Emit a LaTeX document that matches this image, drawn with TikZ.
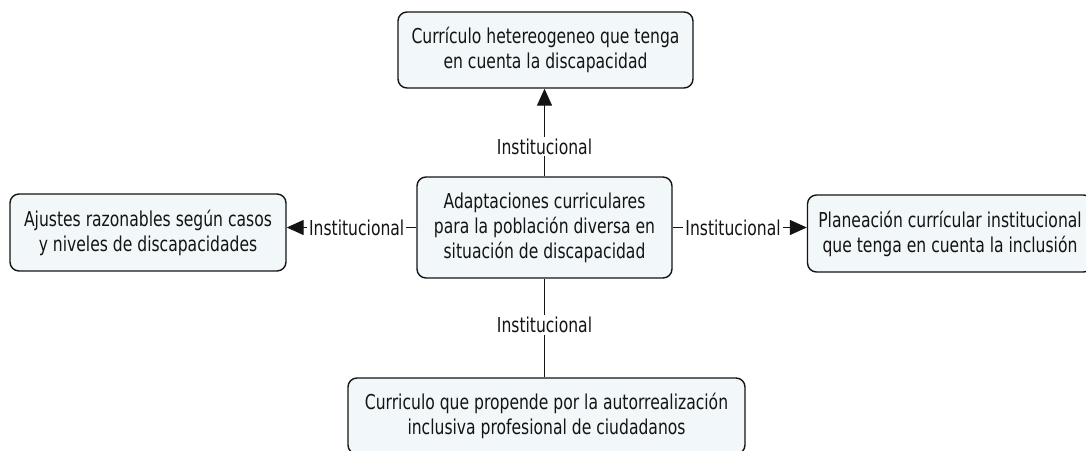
\documentclass[tikz,border=0pt]{standalone}
\usepackage{fontspec}
\setmainfont{DejaVu Sans}[FakeStretch=0.76]
\usetikzlibrary{arrows.meta}
\tikzset{>={Triangle[length=17pt,width=15pt]}}
\definecolor{boxfill}{RGB}{242,248,249}
\colorlet{ink}{black!92}
\newcommand{\inst}{Institucional}

\begin{document}
\begin{tikzpicture}[x=1pt,y=-1pt,
  concept/.style={draw=ink, line width=1.4pt, rounded corners=9pt, fill=boxfill,
    align=center, inner sep=0pt, text=ink, font=\fontsize{20.5}{25}\selectfont},
  rel/.style={fill=white, inner sep=2pt, text=ink, font=\fontsize{20.5}{25}\selectfont}]
  \useasboundingbox (0,0) rectangle (1086,450);
  % concepts
  \node[concept, minimum width=295pt, minimum height=76pt] (curhet) at (545.5,50)
    {Currículo hetereogeneo que tenga\\en cuenta la discapacidad};
  \node[concept, minimum width=255pt, minimum height=101pt] (adapt) at (544.5,227.5)
    {Adaptaciones curriculares\\para la población diversa en\\situación de discapacidad};
  \node[concept, minimum width=276pt, minimum height=77pt] (ajustes) at (148,232.5)
    {Ajustes razonables según casos\\y niveles de discapacidades};
  \node[concept, minimum width=285pt, minimum height=77pt] (planea) at (950,233.5)
    {Planeación currícular institucional\\que tenga en cuenta la inclusión};
  \node[concept, minimum width=397pt, minimum height=76pt] (curaut) at (546.5,416)
    {Curriculo que propende por la autorrealización\\inclusiva profesional de ciudadanos};
  % links
  \draw[->,line width=1.4pt,ink] (adapt.north) -- node[rel,pos=0.34] {\inst} (adapt.north |- curhet.south);
  \draw[->,line width=1.4pt,ink] (adapt.west) -- node[rel,pos=0.46] {\inst} (adapt.west -| ajustes.east);
  \draw[->,line width=1.4pt,ink] (adapt.east) -- node[rel,pos=0.45] {\inst} (adapt.east -| planea.west);
  \draw[line width=1.4pt,ink] (adapt.south) -- node[rel,pos=0.47] {\inst} (adapt.south |- curaut.north);
\end{tikzpicture}
\end{document}
